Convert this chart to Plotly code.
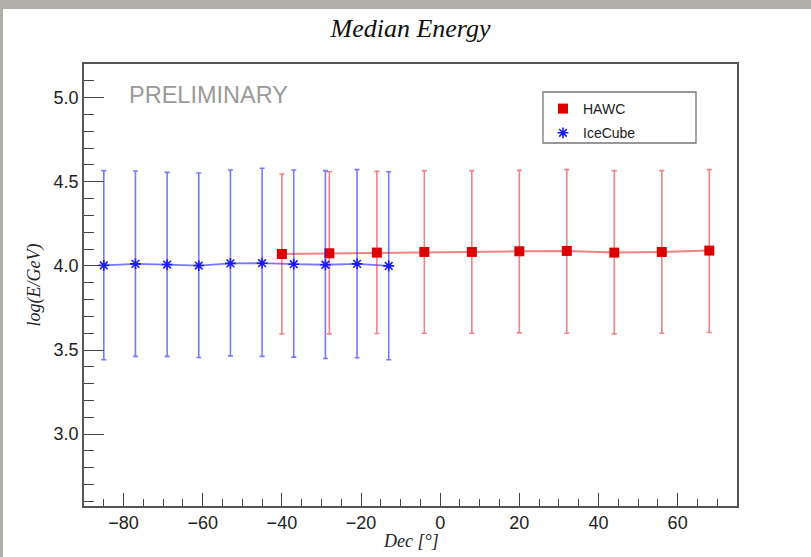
import plotly.graph_objects as go

# ---- data ----
hawc_dec = [-40, -28, -16, -4, 8, 20, 32, 44, 56, 68]
hawc_E = [4.071, 4.075, 4.079, 4.083, 4.083, 4.087, 4.089, 4.079, 4.083, 4.091]
hawc_hi = [4.546, 4.560, 4.562, 4.566, 4.566, 4.568, 4.572, 4.566, 4.566, 4.572]
hawc_lo = [3.596, 3.596, 3.598, 3.600, 3.600, 3.602, 3.600, 3.596, 3.600, 3.604]

ice_dec = [-85, -77, -69, -61, -53, -45, -37, -29, -21, -13]
ice_E = [4.003, 4.012, 4.008, 4.002, 4.015, 4.016, 4.010, 4.007, 4.012, 4.000]
ice_hi = [4.566, 4.564, 4.556, 4.552, 4.570, 4.580, 4.570, 4.566, 4.572, 4.560]
ice_lo = [3.442, 3.462, 3.462, 3.456, 3.465, 3.462, 3.458, 3.450, 3.454, 3.442]

x_ticks = [-80, -60, -40, -20, 0, 20, 40, 60]
y_ticks = [3.0, 3.5, 4.0, 4.5, 5.0]

def up(v, h):
    return [b - a for a, b in zip(v, h)]

def dn(v, l):
    return [a - b for a, b in zip(v, l)]

fig = go.Figure()

RED_L = "rgba(230,30,30,0.55)"
BLUE_L = "rgba(30,30,255,0.6)"

# connecting lines
fig.add_trace(go.Scatter(x=hawc_dec, y=hawc_E, mode="lines",
                         line=dict(color=RED_L, width=2), showlegend=False,
                         hoverinfo="skip"))
fig.add_trace(go.Scatter(x=ice_dec, y=ice_E, mode="lines",
                         line=dict(color=BLUE_L, width=1.8), showlegend=False,
                         hoverinfo="skip"))

fig.add_trace(go.Scatter(
    x=hawc_dec, y=hawc_E, mode="markers", name="HAWC", legendgroup="a",
    marker=dict(symbol="square", size=10, color="#dd0000"),
    error_y=dict(type="data", symmetric=False, array=up(hawc_E, hawc_hi),
                 arrayminus=dn(hawc_E, hawc_lo), color=RED_L,
                 thickness=1.6, width=2.5),
))
fig.add_trace(go.Scatter(
    x=ice_dec, y=ice_E, mode="markers", name="IceCube", legendgroup="b",
    marker=dict(symbol="asterisk-open", size=9, color="#1a1aff",
                line=dict(color="#1a1aff", width=1.6)),
    error_y=dict(type="data", symmetric=False, array=up(ice_E, ice_hi),
                 arrayminus=dn(ice_E, ice_lo), color=BLUE_L,
                 thickness=1.6, width=2.5),
))

L, R, T, B = 84, 74, 64, 51
W, H = 811, 557
pw, ph = W - L - R, H - T - B

def px(xp):
    return (xp - L) / pw

def py(yp):
    return (H - B - yp) / ph

GREY = "#b2aea8"
shapes = [
    dict(type="rect", xref="paper", yref="paper", layer="above",
         x0=px(0), x1=px(W), y0=py(9), y1=py(0),
         fillcolor=GREY, line=dict(width=0)),
    dict(type="rect", xref="paper", yref="paper", layer="above",
         x0=px(0), x1=px(3), y0=py(H), y1=py(9),
         fillcolor=GREY, line=dict(width=0)),
    dict(type="rect", xref="paper", yref="paper",
         x0=px(543), x1=px(696), y0=py(92), y1=py(143),
         fillcolor="rgba(0,0,0,0)", line=dict(color="#777", width=1.3)),
]

axis_font = dict(family="Liberation Sans, Arial", size=18, color="#222")
title_font = dict(family="Liberation Serif, Times New Roman", size=18, color="#222",
                  style="italic")

fig.update_layout(
    width=W, height=H,
    margin=dict(l=L, r=R, t=T, b=B, pad=0),
    paper_bgcolor="white",
    plot_bgcolor="white",
    shapes=shapes,
    title=dict(text="Median Energy", x=0.5, xref="paper", xanchor="center",
               y=1 - 28 / H, yanchor="middle",
               font=dict(family="Liberation Serif, Times New Roman", size=26,
                         color="#111", style="italic")),
    showlegend=True,
    legend=dict(x=px(543), y=py(93), xanchor="left", yanchor="top",
                bgcolor="rgba(0,0,0,0)", borderwidth=0,
                traceorder="grouped", tracegroupgap=3,
                font=dict(family="Liberation Sans, Arial", size=14, color="#222")),
    xaxis=dict(range=[-90, 75], tickvals=x_ticks,
               ticktext=["\u221280", "\u221260", "\u221240", "\u221220", "0", "20", "40", "60"],
               ticks="inside", ticklen=13, tickwidth=1.3, tickcolor="#444",
               minor=dict(ticks="inside", ticklen=7, dtick=5, tick0=0,
                          tickwidth=1.2, tickcolor="#444"),
               showgrid=False, zeroline=False, showline=True, mirror=True,
               linecolor="#555", linewidth=1.5, tickfont=axis_font),
    yaxis=dict(range=[2.573, 5.2], tickvals=y_ticks,
               ticktext=["3.0", "3.5", "4.0", "4.5", "5.0"],
               ticks="inside", ticklen=20, tickwidth=1.3, tickcolor="#444",
               minor=dict(ticks="inside", ticklen=10, dtick=0.1, tick0=0,
                          tickwidth=1.2, tickcolor="#444"),
               showgrid=False, zeroline=False, showline=True, mirror=True,
               linecolor="#555", linewidth=1.5, tickfont=axis_font,
               title=dict(text="log(E/GeV)", font=title_font, standoff=8)),
    annotations=[
        dict(text="PRELIMINARY", xref="paper", yref="paper",
             x=px(127), y=py(95), xanchor="left", yanchor="middle",
             showarrow=False,
             font=dict(family="Liberation Sans, Arial", size=23.5, color="#9a9a9a")),
        dict(text="Dec [°]", xref="paper", yref="paper",
             x=0.5, y=py(541), xanchor="center", yanchor="middle",
             showarrow=False, font=title_font),
    ],
)

fig.write_html(
    "out.html",
    config={"displayModeBar": False},
    post_script=("document.body.style.margin='0';"
                 "document.body.style.overflow='hidden';"
                 "document.documentElement.style.overflow='hidden';"),
)
